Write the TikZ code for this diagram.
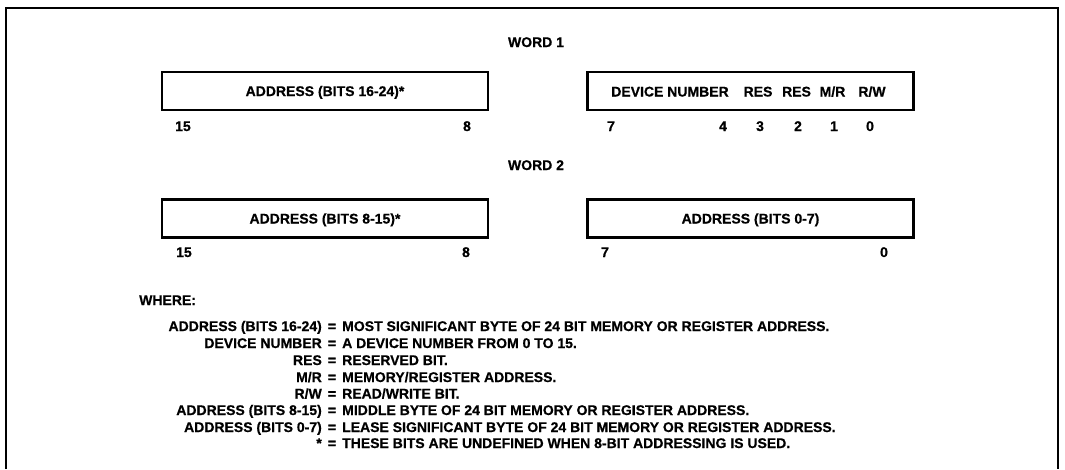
\documentclass[tikz,border=0pt]{standalone}
\usepackage{fontspec}
\setmainfont{Liberation Sans}[BoldFeatures={FakeBold=0.6}]
\begin{document}
\begin{tikzpicture}[x=1pt,y=-1pt,
  txt/.style={font=\bfseries\fontsize{14}{16}\selectfont, inner sep=0pt},
  bl/.style={txt, anchor=base},
  regbox/.style={draw, line width=2.4pt, minimum width=326pt, minimum height=38pt, inner sep=0pt,
    font=\bfseries\fontsize{14}{16}\selectfont, text height=10pt, text depth=0pt},
  frame/.style={line width=2.6pt}
]
\useasboundingbox (0,0) rectangle (1065,469);
% frame
\draw[frame] (6,469) -- (6,8) -- (1058,8) -- (1058,469);

% WORD 1
\node[bl] (w1) at (536,47) {WORD 1};
\node[regbox] (b1) at (325,91) {ADDRESS (BITS 16-24)*};
\node[regbox] (b2) at (750.5,91) {};
\node[bl] (b2dn) at (670,96.5) {DEVICE NUMBER};
\node[bl] (b2r3) at (758,96.5) {RES};
\node[bl] (b2r2) at (796.5,96.5) {RES};
\node[bl] (b2mr) at (832.5,96.5) {M/R};
\node[bl] (b2rw) at (872,96.5) {R/W};
\node[bl] (n15a) at (183,131) {15};
\node[bl] (n8a) at (467,131) {8};
\node[bl] (n7a) at (611,131) {7};
\node[bl] (n4a) at (723,131) {4};
\node[bl] (n3a) at (760,131) {3};
\node[bl] (n2a) at (798,131) {2};
\node[bl] (n1a) at (834,131) {1};
\node[bl] (n0a) at (870,131) {0};

% WORD 2
\node[bl] (w2) at (536,170) {WORD 2};
\node[regbox] (b3) at (325,218.5) {ADDRESS (BITS 8-15)*};
\node[regbox] (b4) at (750.5,218.5) {ADDRESS (BITS 0-7)};
\node[bl] (n15b) at (184,257) {15};
\node[bl] (n8b) at (466,257) {8};
\node[bl] (n7b) at (605,257) {7};
\node[bl] (n0b) at (884,257) {0};

% legend
\node[txt, anchor=base west] (where) at (139,305) {WHERE:};
\foreach \i/\y/\l/\r in {
  1/331/{ADDRESS (BITS 16-24)}/{MOST SIGNIFICANT BYTE OF 24 BIT MEMORY OR REGISTER ADDRESS.},
  2/348/{DEVICE NUMBER}/{A DEVICE NUMBER FROM 0 TO 15.},
  3/365/{RES}/{RESERVED BIT.},
  4/382/{M/R}/{MEMORY/REGISTER ADDRESS.},
  5/398.5/{R/W}/{READ/WRITE BIT.},
  6/415/{ADDRESS (BITS 8-15)}/{MIDDLE BYTE OF 24 BIT MEMORY OR REGISTER ADDRESS.},
  7/432/{ADDRESS (BITS 0-7)}/{LEASE SIGNIFICANT BYTE OF 24 BIT MEMORY OR REGISTER ADDRESS.},
  8/448/{*}/{THESE BITS ARE UNDEFINED WHEN 8-BIT ADDRESSING IS USED.}}{
  \node[txt, anchor=base east] (dl\i) at (322,\y) {\l};
  \node[bl] (de\i) at (332,\y) {=};
  \node[txt, anchor=base west] (dr\i) at (342,\y) {\r};
}
\end{tikzpicture}
\end{document}
